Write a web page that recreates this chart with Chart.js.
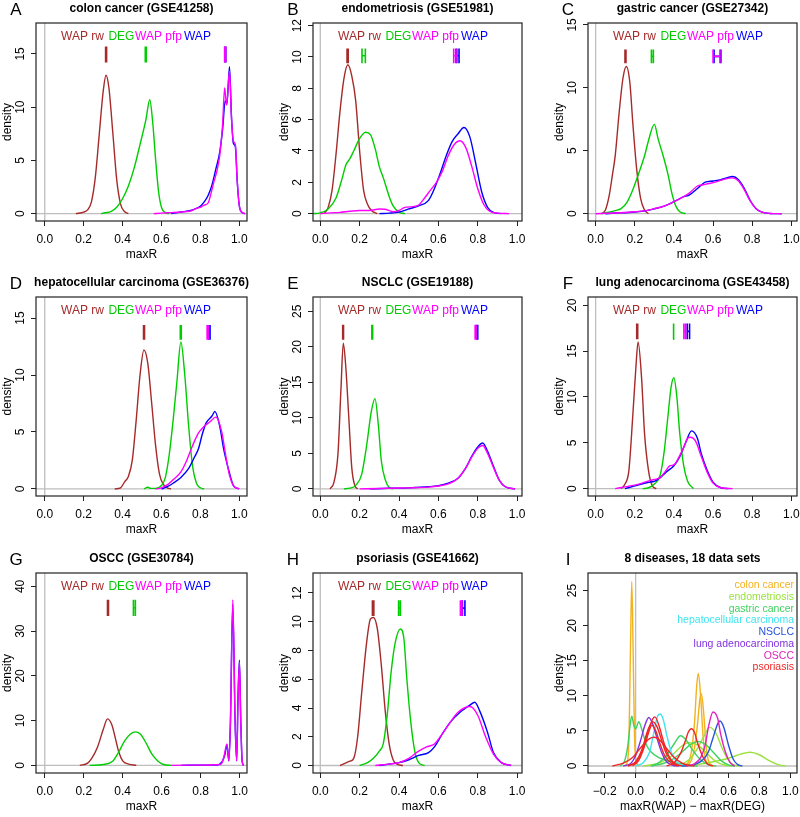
<!DOCTYPE html>
<html>
<head>
<meta charset="utf-8">
<script src="https://cdn.jsdelivr.net/npm/chart.js@4.4.1/dist/chart.umd.min.js"></script>
<style>
  html, body { margin: 0; padding: 0; background: #fff; overflow: hidden; }
  #fig { position: relative; width: 800px; height: 817px; }
  #fig canvas { position: absolute; }
</style>
</head>
<body>
<div id="fig"></div>
<script>
// ---- tick labels ----
const xTicks01 = [0, 0.2, 0.4, 0.6, 0.8, 1.0];
const xTicksDiff = [-0.2, 0, 0.2, 0.4, 0.6, 0.8, 1.0];
const yTicks15 = [0, 5, 10, 15];
const yTicks12 = [0, 2, 4, 6, 8, 10, 12];
const yTicks20 = [0, 5, 10, 15, 20];
const yTicks25 = [0, 5, 10, 15, 20, 25];
const yTicks40 = [0, 10, 20, 30, 40];

// ---- A: colon cancer (GSE41258) ----
const aRw = [[0.16,0],[0.2,0.15],[0.22,0.35],[0.24,1.1],[0.26,3.4],[0.28,7.4],[0.3,11.4],[0.315,13.0],[0.33,11.8],[0.35,7.6],[0.37,3.2],[0.39,0.9],[0.41,0.2],[0.43,0]];
const aDeg = [[0.29,0],[0.31,0.08],[0.34,0.2],[0.37,0.6],[0.4,1.4],[0.43,2.6],[0.46,4.3],[0.49,6.5],[0.52,8.8],[0.54,10.7],[0.555,8.6],[0.57,5.1],[0.585,2.1],[0.6,0.6],[0.62,0.1],[0.64,0]];
const aPfp = [[0.56,0],[0.6,0.05],[0.65,0.1],[0.7,0.15],[0.75,0.25],[0.78,0.5],[0.8,0.6],[0.82,0.8],[0.84,1.0],[0.855,1.9],[0.87,3.0],[0.885,4.0],[0.9,5.5],[0.915,8.5],[0.925,11.8],[0.935,10.2],[0.95,13.4],[0.96,9.0],[0.97,6.8],[0.98,6.5],[0.99,3.0],[1.0,0.8],[1.015,0.1],[1.03,0]];
const aWap = [[0.65,0],[0.7,0.15],[0.75,0.3],[0.78,0.5],[0.8,0.7],[0.82,1.1],[0.84,1.7],[0.86,2.7],[0.88,4.2],[0.9,5.8],[0.915,8.0],[0.928,10.6],[0.937,10.3],[0.95,13.8],[0.96,9.2],[0.97,6.6],[0.98,6.3],[0.99,3.0],[1.0,0.8],[1.015,0.1],[1.03,0]];
const aMarks = [[0.313,0.318],[0.517,0.522],[0.925,0.93],[0.926,0.931]];

// ---- B: endometriosis (GSE51981) ----
const bRw = [[0.02,0],[0.04,0.4],[0.06,1.5],[0.08,3.8],[0.1,6.5],[0.12,8.6],[0.14,9.5],[0.16,8.8],[0.18,7.2],[0.2,4.0],[0.22,1.5],[0.24,0.6],[0.26,0.2],[0.29,0]];
const bDeg = [[-0.04,0],[0.0,0.05],[0.04,0.3],[0.08,1.0],[0.11,2.2],[0.13,3.1],[0.15,3.5],[0.17,4.0],[0.2,4.8],[0.23,5.2],[0.255,5.05],[0.28,4.1],[0.3,3.0],[0.32,2.3],[0.35,1.1],[0.37,0.5],[0.4,0.1],[0.43,0]];
const bPfp = [[0.0,0],[0.05,0.05],[0.1,0.08],[0.15,0.15],[0.2,0.2],[0.25,0.2],[0.3,0.3],[0.33,0.28],[0.37,0.12],[0.4,0.2],[0.43,0.4],[0.47,0.45],[0.5,0.55],[0.53,1.0],[0.56,1.5],[0.59,2.0],[0.62,2.7],[0.65,3.7],[0.68,4.4],[0.71,4.65],[0.74,4.2],[0.77,3.0],[0.8,1.6],[0.83,0.6],[0.86,0.15],[0.9,0.03],[0.96,0]];
const bWap = [[0.3,0],[0.35,0.03],[0.4,0.1],[0.45,0.3],[0.5,0.5],[0.55,0.85],[0.58,1.6],[0.61,2.6],[0.64,3.7],[0.67,4.6],[0.7,5.1],[0.73,5.5],[0.76,4.9],[0.79,3.2],[0.82,1.4],[0.85,0.4],[0.88,0.08],[0.92,0]];
const bMarks = [[0.136,0.142],[0.212,0.229],[0.678,0.695],[0.69,0.705]];

// ---- C: gastric cancer (GSE27342) ----
const cRw = [[0.03,0],[0.05,0.3],[0.07,1.5],[0.085,3.0],[0.1,4.6],[0.12,8.0],[0.14,10.8],[0.157,11.7],[0.175,10.4],[0.19,7.2],[0.21,3.5],[0.23,1.2],[0.25,0.3],[0.27,0]];
const cDeg = [[0.03,0],[0.06,0.1],[0.1,0.25],[0.13,0.4],[0.16,0.9],[0.19,1.9],[0.22,3.2],[0.25,4.6],[0.27,5.8],[0.3,7.1],[0.32,5.9],[0.345,4.6],[0.37,3.1],[0.39,1.6],[0.41,0.6],[0.43,0.15],[0.46,0]];
const cPfp = [[0.0,0],[0.05,0.03],[0.1,0.06],[0.15,0.1],[0.2,0.15],[0.25,0.22],[0.3,0.4],[0.35,0.6],[0.4,0.95],[0.45,1.35],[0.48,1.65],[0.52,2.2],[0.55,2.3],[0.58,2.4],[0.62,2.55],[0.66,2.75],[0.7,2.85],[0.73,2.6],[0.76,1.9],[0.79,1.0],[0.82,0.4],[0.85,0.12],[0.89,0.02],[0.95,0]];
const cWap = [[0.05,0],[0.1,0.05],[0.15,0.08],[0.2,0.14],[0.25,0.22],[0.3,0.38],[0.35,0.6],[0.4,0.95],[0.45,1.35],[0.48,1.5],[0.52,2.0],[0.56,2.5],[0.6,2.6],[0.64,2.7],[0.67,2.85],[0.7,2.95],[0.73,2.7],[0.76,2.0],[0.79,1.05],[0.82,0.4],[0.85,0.12],[0.89,0.02],[0.95,0]];
const cMarks = [[0.15,0.155],[0.285,0.295],[0.6,0.635],[0.605,0.64]];

// ---- D: hepatocellular carcinoma (GSE36376) ----
const dRw = [[0.36,0],[0.39,0.1],[0.41,0.6],[0.43,1.1],[0.45,2.5],[0.47,6.0],[0.49,10.0],[0.51,12.2],[0.53,11.0],[0.55,7.5],[0.57,3.8],[0.59,1.3],[0.61,0.4],[0.63,0.1],[0.65,0]];
const dDeg = [[0.51,0],[0.53,0.15],[0.545,0.05],[0.57,0.05],[0.6,0.3],[0.62,1.0],[0.64,3.0],[0.66,6.0],[0.68,9.5],[0.7,12.9],[0.72,10.0],[0.74,5.5],[0.76,2.0],[0.78,0.5],[0.8,0.1],[0.82,0]];
const dPfp = [[0.57,0],[0.6,0.1],[0.63,0.35],[0.66,0.8],[0.7,1.5],[0.73,2.5],[0.76,3.8],[0.79,4.9],[0.82,5.5],[0.85,5.9],[0.88,6.3],[0.91,5.0],[0.93,3.0],[0.95,1.2],[0.97,0.3],[1.0,0]];
const dWap = [[0.6,0],[0.63,0.2],[0.66,0.5],[0.7,1.0],[0.74,1.8],[0.77,2.8],[0.79,3.5],[0.81,4.8],[0.83,5.8],[0.86,6.4],[0.875,6.8],[0.9,5.5],[0.92,3.5],[0.95,1.4],[0.97,0.3],[1.0,0]];
const dMarks = [[0.508,0.513],[0.697,0.702],[0.835,0.842],[0.843,0.85]];

// ---- E: NSCLC (GSE19188) ----
const eRw = [[0.05,0],[0.07,1.0],[0.09,5.0],[0.105,14.0],[0.117,20.5],[0.13,17.0],[0.145,10.0],[0.16,3.0],[0.175,0.5],[0.19,0]];
const eDeg = [[0.12,0],[0.15,0.1],[0.18,0.5],[0.21,2.0],[0.235,6.0],[0.26,11.0],[0.278,12.7],[0.295,9.0],[0.31,4.0],[0.33,1.3],[0.35,0.2],[0.37,0]];
const ePfp = [[0.2,0],[0.3,0.05],[0.35,0.1],[0.45,0.15],[0.55,0.25],[0.6,0.4],[0.65,0.7],[0.7,1.5],[0.74,3.0],[0.77,4.5],[0.8,5.7],[0.825,6.1],[0.85,5.0],[0.88,3.0],[0.91,1.2],[0.94,0.3],[0.99,0]];
const eWap = [[0.25,0],[0.35,0.08],[0.45,0.15],[0.55,0.3],[0.6,0.45],[0.65,0.8],[0.7,1.5],[0.74,3.0],[0.77,4.6],[0.8,5.9],[0.825,6.45],[0.85,5.3],[0.88,3.2],[0.91,1.2],[0.94,0.3],[0.99,0]];
const eMarks = [[0.114,0.118],[0.262,0.266],[0.787,0.792],[0.795,0.8]];

// ---- F: lung adenocarcinoma (GSE43458) ----
const fRw = [[0.13,0],[0.15,0.5],[0.17,2.0],[0.19,8.0],[0.205,13.0],[0.217,16.0],[0.235,12.0],[0.25,6.0],[0.27,2.0],[0.29,0.3],[0.31,0]];
const fDeg = [[0.24,0],[0.27,0.1],[0.3,0.5],[0.33,1.5],[0.35,4.0],[0.37,8.0],[0.385,11.0],[0.4,12.1],[0.415,10.0],[0.43,6.0],[0.45,2.5],[0.47,0.8],[0.5,0]];
const fPfp = [[0.1,0],[0.15,0.2],[0.22,0.5],[0.28,0.9],[0.3,1.0],[0.33,1.2],[0.36,2.0],[0.38,2.5],[0.4,2.6],[0.42,3.2],[0.45,4.5],[0.47,5.5],[0.485,5.6],[0.51,5.2],[0.54,3.5],[0.57,1.8],[0.6,0.6],[0.64,0.1],[0.7,0]];
const fWap = [[0.15,0],[0.2,0.3],[0.27,0.7],[0.3,0.8],[0.33,1.2],[0.36,1.8],[0.4,2.5],[0.43,3.5],[0.46,5.0],[0.49,6.3],[0.52,5.5],[0.54,3.8],[0.57,2.0],[0.6,0.7],[0.64,0.1],[0.68,0]];
const fMarks = [[0.21,0.215],[0.396,0.4],[0.451,0.46],[0.468,0.48]];

// ---- G: OSCC (GSE30784) ----
const gRw = [[0.18,0],[0.22,0.5],[0.24,1.5],[0.27,4.0],[0.3,8.0],[0.322,10.4],[0.345,9.0],[0.36,6.5],[0.38,3.0],[0.4,1.0],[0.43,0.3],[0.47,0]];
const gDeg = [[0.23,0],[0.3,0.2],[0.35,1.0],[0.38,3.0],[0.41,5.5],[0.44,7.0],[0.465,7.5],[0.49,7.0],[0.52,5.0],[0.55,2.5],[0.58,1.0],[0.61,0.2],[0.65,0]];
const gPfp = [[0.65,0],[0.75,0.05],[0.85,0.1],[0.9,0.2],[0.91,0.6],[0.92,2.0],[0.935,4.8],[0.945,1.0],[0.953,10.0],[0.965,37.0],[0.977,10.0],[0.985,1.0],[0.992,15.0],[0.999,23.0],[1.006,10.0],[1.013,1.0],[1.02,0]];
const gWap = [[0.7,0],[0.8,0.05],[0.88,0.1],[0.91,0.8],[0.925,2.5],[0.935,4.6],[0.945,1.0],[0.953,9.5],[0.965,36.0],[0.977,9.5],[0.985,1.0],[0.992,15.5],[0.999,23.5],[1.006,10.0],[1.013,1.0],[1.02,0]];
const gMarks = [[0.322,0.327],[0.455,0.465],null,null];

// ---- H: psoriasis (GSE41662) ----
const hRw = [[0.1,0],[0.15,0.3],[0.17,0.5],[0.19,2.0],[0.21,5.0],[0.235,8.5],[0.255,10.2],[0.27,10.3],[0.29,9.5],[0.31,7.0],[0.33,3.8],[0.35,1.5],[0.37,0.4],[0.39,0.1],[0.42,0]];
const hDeg = [[0.2,0],[0.24,0.2],[0.27,0.5],[0.3,1.0],[0.32,1.5],[0.34,3.5],[0.36,6.5],[0.38,8.5],[0.407,9.5],[0.425,8.8],[0.44,6.0],[0.46,3.0],[0.48,1.0],[0.5,0.2],[0.53,0]];
const hPfp = [[0.28,0],[0.35,0.1],[0.4,0.2],[0.45,0.5],[0.5,1.0],[0.54,1.3],[0.58,1.5],[0.62,2.2],[0.66,3.0],[0.7,3.7],[0.76,4.1],[0.8,3.5],[0.84,2.0],[0.88,0.8],[0.92,0.2],[0.97,0]];
const hWap = [[0.3,0],[0.35,0.1],[0.4,0.2],[0.45,0.4],[0.5,0.7],[0.55,0.9],[0.58,1.3],[0.62,2.2],[0.66,3.0],[0.71,3.7],[0.76,4.2],[0.785,4.4],[0.81,3.8],[0.85,2.3],[0.88,0.9],[0.92,0.2],[0.97,0]];
const hMarks = [[0.265,0.272],[0.398,0.407],[0.712,0.72],[0.722,0.735]];

// ---- I: maxR(WAP) - maxR(DEG), 18 data sets ----
const iColon1 = [[-0.075,0],[-0.055,0.5],[-0.043,4],[-0.034,16],[-0.025,26.3],[-0.016,16],[-0.007,4],[0.005,0.5],[0.025,0]];
const iColon2 = [[0.3,0],[0.34,0.5],[0.36,2],[0.38,6],[0.395,11.5],[0.405,13.2],[0.42,10],[0.435,4.5],[0.45,1.2],[0.47,0.2],[0.5,0]];
const iColon3 = [[0.32,0],[0.36,0.8],[0.38,2.5],[0.4,6],[0.415,9.5],[0.425,10.3],[0.44,7.5],[0.455,3],[0.47,0.8],[0.5,0]];
const iEndo1 = [[0.25,0],[0.3,0.3],[0.35,1],[0.4,2.5],[0.44,4.2],[0.48,5.5],[0.52,4.6],[0.56,2.5],[0.6,0.8],[0.64,0.1],[0.68,0]];
const iEndo2 = [[0.3,0],[0.4,0.2],[0.5,0.6],[0.6,1.1],[0.68,1.7],[0.74,1.95],[0.8,1.6],[0.86,0.8],[0.92,0.2],[0.97,0]];
const iEndo3 = [[0.05,0],[0.15,0.4],[0.22,1.2],[0.28,2.5],[0.34,3.3],[0.4,3.0],[0.46,1.8],[0.52,0.6],[0.58,0.1],[0.62,0]];
const iGastric1 = [[-0.1,0],[-0.07,0.8],[-0.05,3],[-0.035,6],[-0.025,7.1],[-0.012,5.8],[0.0,5.3],[0.02,6.3],[0.04,5.2],[0.07,3],[0.1,2],[0.15,1.2],[0.2,0.8],[0.25,0.5],[0.3,0.3],[0.35,0.1],[0.4,0]];
const iGastric2 = [[0.1,0],[0.15,0.5],[0.2,1.5],[0.25,3.2],[0.29,4.3],[0.33,3.6],[0.37,2.2],[0.42,0.9],[0.47,0.2],[0.52,0]];
const iGastric3 = [[0.1,0],[0.2,0.5],[0.28,1.6],[0.34,2.8],[0.4,3.5],[0.45,3.1],[0.5,2],[0.55,0.8],[0.6,0.15],[0.64,0]];
const iHcc = [[0.0,0],[0.05,0.5],[0.09,2],[0.12,5],[0.14,7],[0.16,7.4],[0.18,6.5],[0.2,4.5],[0.23,2],[0.27,0.5],[0.31,0]];
const iNsclc = [[0.3,0],[0.38,0.2],[0.43,0.8],[0.47,2],[0.5,4],[0.53,6],[0.545,6.4],[0.57,5.5],[0.6,3],[0.63,1],[0.66,0.2],[0.69,0]];
const iLung = [[-0.08,0],[-0.03,0.4],[0.0,1.5],[0.03,3.5],[0.06,5.8],[0.085,6.9],[0.11,6],[0.14,3.8],[0.17,1.8],[0.2,0.6],[0.24,0.1],[0.28,0]];
const iOscc = [[0.32,0],[0.38,0.3],[0.42,1.2],[0.45,3],[0.47,5.5],[0.5,7.7],[0.53,6.8],[0.55,4.5],[0.58,2],[0.61,0.5],[0.64,0]];
const iPso1 = [[-0.05,0],[0.0,0.5],[0.04,2],[0.08,4.8],[0.11,6.7],[0.125,7.0],[0.15,5.8],[0.18,3.5],[0.21,1.6],[0.25,0.4],[0.3,0]];
const iPso2 = [[-0.05,0],[0.0,0.6],[0.04,2.3],[0.08,5.2],[0.11,6.3],[0.14,5.5],[0.17,3.5],[0.2,1.7],[0.24,0.5],[0.29,0]];
const iPso3 = [[-0.02,0],[0.02,0.8],[0.06,3],[0.09,5.2],[0.105,5.8],[0.13,5],[0.16,3],[0.19,1.4],[0.23,0.4],[0.27,0]];
const iPso4 = [[-0.15,0],[-0.08,0.4],[-0.02,1.2],[0.04,2.8],[0.09,3.9],[0.12,4.1],[0.16,3.6],[0.2,2.5],[0.25,1.2],[0.3,0.4],[0.35,0.05],[0.38,0]];
const iPso5 = [[0.2,0],[0.25,0.5],[0.29,1.8],[0.32,3.5],[0.34,4.8],[0.36,5.3],[0.38,4.8],[0.4,3.3],[0.43,1.5],[0.46,0.4],[0.5,0]];

const diseases = ['colon cancer', 'endometriosis', 'gastric cancer', 'hepatocellular carcinoma', 'NSCLC', 'lung adenocarcinoma', 'OSCC', 'psoriasis'];
const diseaseColors = ['#F2B21E', '#9AE23C', '#3ED25E', '#3FE4F0', '#2453E0', '#8131E0', '#E021BE', '#F02626'];

// method colours (R: brown, green3, magenta, blue)
const methods = ['WAP rw', 'DEG', 'WAP pfp', 'WAP'];
const methodColors = ['#A52A2A', '#00CD00', '#FF00FF', '#0000FF'];
// back to front: WAP is drawn under WAP pfp
const drawOrder = [0, 1, 3, 2];

const FONT = '"Liberation Sans", Arial, Helvetica, sans-serif';

// plot box positions on the page
const colLeft = [36, 313, 588], colRight = [247, 522, 797];
const rowTop = [23, 297, 573], rowBottom = [221, 496, 773];
const padL = 36, padR = 3, padT = 23, padB = 44;

const panels = [
  { letter: 'A', title: 'colon cancer (GSE41258)', curves: [aRw, aDeg, aPfp, aWap], marks: aMarks, markY: [14.2, 15.7], x: [-0.045, 1.04], y: [-0.69, 17.9], yTicks: yTicks15 },
  { letter: 'B', title: 'endometriosis (GSE51981)', curves: [bRw, bDeg, bPfp, bWap], marks: bMarks, markY: [9.6, 10.55], x: [-0.037, 1.025], y: [-0.47, 12.17], yTicks: yTicks12 },
  { letter: 'C', title: 'gastric cancer (GSE27342)', curves: [cRw, cDeg, cPfp, cWap], marks: cMarks, markY: [11.95, 13.05], x: [-0.039, 1.029], y: [-0.58, 15.15], yTicks: yTicks15 },
  { letter: 'D', title: 'hepatocellular carcinoma (GSE36376)', curves: [dRw, dDeg, dPfp, dWap], marks: dMarks, markY: [13.1, 14.4], x: [-0.045, 1.04], y: [-0.62, 16.85], yTicks: yTicks15 },
  { letter: 'E', title: 'NSCLC (GSE19188)', curves: [eRw, eDeg, ePfp, eWap], marks: eMarks, markY: [21.0, 23.1], x: [-0.037, 1.025], y: [-1.0, 27.0], yTicks: yTicks25 },
  { letter: 'F', title: 'lung adenocarcinoma (GSE43458)', curves: [fRw, fDeg, fPfp, fWap], marks: fMarks, markY: [16.3, 18.0], x: [-0.039, 1.029], y: [-0.8, 20.9], yTicks: yTicks20 },
  { letter: 'G', title: 'OSCC (GSE30784)', curves: [gRw, gDeg, gPfp, gWap], marks: gMarks, markY: [33.4, 37.0], x: [-0.045, 1.038], y: [-1.7, 43.0], yTicks: yTicks40 },
  { letter: 'H', title: 'psoriasis (GSE41662)', curves: [hRw, hDeg, hPfp, hWap], marks: hMarks, markY: [10.4, 11.5], x: [-0.037, 1.025], y: [-0.52, 13.39], yTicks: yTicks12 },
  { letter: 'I', title: '8 diseases, 18 data sets', xTitle: 'maxR(WAP) \u2212 maxR(DEG)', x: [-0.308, 1.043], y: [-1.0, 27.5], yTicks: yTicks25, xTicks: xTicksDiff,
    curves: [iColon1, iColon2, iColon3, iEndo1, iEndo2, iEndo3, iGastric1, iGastric2, iGastric3, iHcc, iNsclc, iLung, iOscc, iPso1, iPso2, iPso3, iPso4, iPso5],
    curveGroup: [0, 0, 0, 1, 1, 1, 2, 2, 2, 3, 4, 5, 6, 7, 7, 7, 7, 7] }
];

const toXY = pts => pts.map(([x, y]) => ({ x, y }));

// draws the R-like frame, zero lines and all text
const rFrame = {
  id: 'rFrame',
  beforeDatasetsDraw(chart) {
    const { ctx, chartArea: a, scales: { x, y } } = chart;
    ctx.save();
    ctx.beginPath();
    ctx.rect(a.left, a.top, a.right - a.left, a.bottom - a.top);
    ctx.clip();
    ctx.strokeStyle = '#BEBEBE';
    ctx.lineWidth = 1.3;
    ctx.beginPath();
    ctx.moveTo(a.left, y.getPixelForValue(0));
    ctx.lineTo(a.right, y.getPixelForValue(0));
    ctx.moveTo(x.getPixelForValue(0), a.top);
    ctx.lineTo(x.getPixelForValue(0), a.bottom);
    ctx.stroke();
    ctx.restore();
  },
  afterDraw(chart, args, opts) {
    const { ctx, chartArea: a, scales: { y } } = chart;
    const p = opts.panel;
    ctx.save();
    ctx.strokeStyle = '#222';
    ctx.lineWidth = 1.2;
    ctx.strokeRect(a.left, a.top, a.right - a.left, a.bottom - a.top);

    // y tick labels, rotated like R's default
    ctx.fillStyle = '#000';
    ctx.font = '12px ' + FONT;
    ctx.textAlign = 'center';
    ctx.textBaseline = 'middle';
    y.ticks.forEach(t => {
      ctx.save();
      ctx.translate(a.left - 15, y.getPixelForValue(t.value));
      ctx.rotate(-Math.PI / 2);
      ctx.fillText(String(t.value), 0, 0);
      ctx.restore();
    });

    const cx = (a.left + a.right) / 2;
    ctx.font = 'bold 12px ' + FONT;
    ctx.fillText(p.title, cx, a.top - 14.5);
    ctx.font = '17px ' + FONT;
    ctx.fillText(p.letter, a.left - 20, a.top - 13);

    if (p.curveGroup) {
      // disease legend, right aligned
      ctx.font = '10.5px ' + FONT;
      ctx.textAlign = 'right';
      diseases.forEach((d, i) => {
        ctx.fillStyle = diseaseColors[i];
        ctx.fillText(d, a.right - 3, a.top + 12.5 + i * 11.7);
      });
    } else {
      // method labels on one row
      ctx.font = '12px ' + FONT;
      ctx.textAlign = 'left';
      const gaps = [4.5, 0.7, 2];
      let tx = a.left + 25;
      methods.forEach((m, i) => {
        ctx.fillStyle = methodColors[i];
        ctx.fillText(m, tx, a.top + 14);
        tx += ctx.measureText(m).width + (gaps[i] || 0);
      });
    }
    ctx.restore();
  }
};

function buildDatasets(p) {
  const sets = [];
  const idx = p.curveGroup ? p.curves.map((c, i) => i) : drawOrder;
  idx.forEach(i => {
    sets.push({
      data: toXY(p.curves[i]),
      borderColor: p.curveGroup ? diseaseColors[p.curveGroup[i]] : methodColors[i],
      borderWidth: 1.4,
      pointRadius: 0,
      cubicInterpolationMode: 'monotone'
    });
  });
  if (p.marks) {
    const [y1, y2] = p.markY;
    const ym = (y1 + y2) / 2;
    drawOrder.forEach(i => {
      const m = p.marks[i];
      if (!m) return;
      const [lo, hi] = m;
      sets.push({
        data: toXY([[lo, y1], [lo, y2], [lo, ym], [hi, ym], [hi, y2], [hi, y1]]),
        borderColor: methodColors[i],
        borderWidth: 1.6,
        pointRadius: 0,
        tension: 0
      });
    });
  }
  // lower order is painted on top, so first in list ends up at the back
  sets.forEach((s, i) => { s.order = sets.length - i; });
  return sets;
}

const fig = document.getElementById('fig');
panels.forEach((p, k) => {
  const col = k % 3, row = Math.floor(k / 3);
  const canvas = document.createElement('canvas');
  const w = colRight[col] - colLeft[col] + padL + padR;
  const h = rowBottom[row] - rowTop[row] + padT + padB;
  canvas.width = w;
  canvas.height = h;
  canvas.style.left = (colLeft[col] - padL) + 'px';
  canvas.style.top = (rowTop[row] - padT) + 'px';
  canvas.style.width = w + 'px';
  canvas.style.height = h + 'px';
  fig.appendChild(canvas);

  const xTicks = p.xTicks || xTicks01;
  new Chart(canvas.getContext('2d'), {
    type: 'line',
    data: { datasets: buildDatasets(p) },
    options: {
      responsive: false,
      animation: false,
      events: [],
      layout: { padding: { top: padT, right: padR, left: 0, bottom: 0 } },
      plugins: {
        legend: { display: false },
        tooltip: { enabled: false },
        rFrame: { panel: p }
      },
      scales: {
        x: {
          type: 'linear',
          min: p.x[0],
          max: p.x[1],
          afterBuildTicks: s => { s.ticks = xTicks.map(v => ({ value: v })); },
          afterFit: s => { s.height = padB; s.paddingLeft = 0; s.paddingRight = 0; },
          border: { display: false },
          grid: { drawOnChartArea: false, drawTicks: true, tickLength: 5, tickColor: '#222', tickWidth: 1 },
          ticks: {
            autoSkip: false,
            maxRotation: 0,
            padding: 6,
            color: '#000',
            font: { family: FONT, size: 12 },
            callback: v => v.toFixed(1).replace('-', '\u2212')
          },
          title: { display: true, text: p.xTitle || 'maxR', color: '#000', font: { family: FONT, size: 12 }, padding: { top: 0, bottom: 3 } }
        },
        y: {
          type: 'linear',
          min: p.y[0],
          max: p.y[1],
          afterBuildTicks: s => { s.ticks = p.yTicks.map(v => ({ value: v })); },
          afterFit: s => { s.width = padL; s.paddingTop = 0; s.paddingBottom = 0; },
          border: { display: false },
          grid: { drawOnChartArea: false, drawTicks: true, tickLength: 5, tickColor: '#222', tickWidth: 1 },
          ticks: { display: false },
          title: { display: true, text: 'density', color: '#000', font: { family: FONT, size: 12 }, padding: 0 }
        }
      }
    },
    plugins: [rFrame]
  });
});
</script>
</body>
</html>
